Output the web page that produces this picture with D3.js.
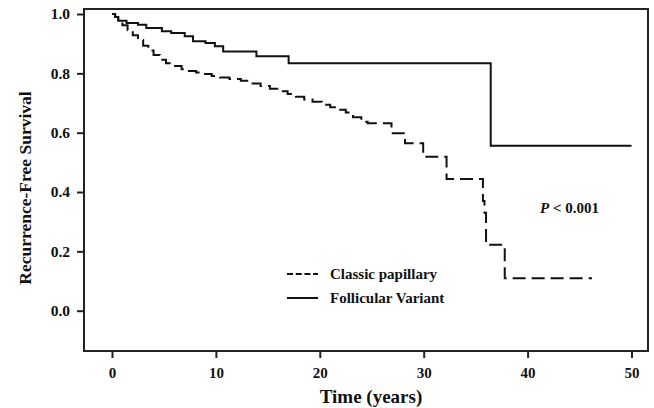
<!DOCTYPE html>
<html>
<head>
<meta charset="utf-8">
<script src="https://cdn.jsdelivr.net/npm/d3@7"></script>
<style>
  body { margin: 0; background: #fff; }
  svg text { font-family: "Liberation Serif", "Times New Roman", serif; font-weight: bold; fill: #111; }
</style>
</head>
<body>
<svg id="km" width="654" height="408"></svg>
<script>
// Kaplan-Meier step points (time in years, survival)
var classicTimes = [0, 0.3, 0.6, 1.0, 1.5, 2.0, 2.5, 3.0, 3.5, 4.0, 4.6, 5.2, 5.9, 6.7, 7.4, 8.1, 8.8, 9.6, 10.4, 11.3, 12.4, 13.4, 14.3, 15.2, 16.0, 16.9, 17.7, 18.5, 19.3, 20.2, 21.0, 21.8, 22.5, 23.2, 24.0, 24.6, 26.9, 28.2, 29.95, 32.2, 35.7, 35.85, 36.0, 37.8, 46.2];
var classicSurv  = [1.0, 0.99, 0.975, 0.962, 0.945, 0.928, 0.912, 0.893, 0.877, 0.862, 0.846, 0.834, 0.825, 0.814, 0.808, 0.803, 0.798, 0.791, 0.786, 0.781, 0.775, 0.766, 0.757, 0.748, 0.740, 0.730, 0.721, 0.712, 0.704, 0.694, 0.686, 0.677, 0.668, 0.652, 0.637, 0.632, 0.598, 0.564, 0.519, 0.444, 0.37, 0.33, 0.222, 0.109, 0.109];

var follTimes = [0, 0.3, 0.6, 1.4, 2.5, 3.3, 4.8, 5.7, 7.0, 7.8, 9.0, 9.9, 10.7, 13.9, 17.0, 36.45, 50.0];
var follSurv  = [1.0, 0.99, 0.977, 0.970, 0.964, 0.953, 0.942, 0.936, 0.925, 0.908, 0.902, 0.891, 0.874, 0.858, 0.834, 0.556, 0.556];

var xTicks = [0, 10, 20, 30, 40, 50];
var yTicks = [0.0, 0.2, 0.4, 0.6, 0.8, 1.0];
var legendLabels = ["Classic papillary", "Follicular Variant"];

var svg = d3.select("#km");

// frame of the plot area
var frameLeft = 84, frameRight = 648, frameTop = 9, frameBottom = 351;

var xScale = d3.scaleLinear().domain([0, 50]).range([112, 631.5]);
var yScale = d3.scaleLinear().domain([0, 1]).range([310.7, 14]);

svg.append("rect")
   .attr("x", frameLeft).attr("y", frameTop)
   .attr("width", frameRight - frameLeft).attr("height", frameBottom - frameTop)
   .attr("fill", "none").attr("stroke", "#222").attr("stroke-width", 2);

// x axis
var xAxis = d3.axisBottom(xScale).tickValues(xTicks).tickSize(7).tickPadding(9)
              .tickFormat(d3.format("d"));
var gx = svg.append("g").attr("transform", "translate(0," + frameBottom + ")").call(xAxis);
gx.select(".domain").remove();
gx.selectAll("line").attr("stroke", "#222").attr("stroke-width", 2);
gx.selectAll("text").style("font-size", "15px").attr("fill", "#111");

// y axis
var yAxis = d3.axisLeft(yScale).tickValues(yTicks).tickSize(7).tickPadding(7)
              .tickFormat(d3.format(".1f"));
var gy = svg.append("g").attr("transform", "translate(" + frameLeft + ",0)").call(yAxis);
gy.select(".domain").remove();
gy.selectAll("line").attr("stroke", "#222").attr("stroke-width", 2);
gy.selectAll("text").style("font-size", "15.5px").attr("fill", "#111");

// axis titles
svg.append("text")
   .attr("x", (frameLeft + frameRight) / 2 + 5).attr("y", 403)
   .attr("text-anchor", "middle").style("font-size", "19px")
   .text("Time (years)");

svg.append("text")
   .attr("transform", "translate(31,188) rotate(-90)")
   .attr("text-anchor", "middle").style("font-size", "17.5px")
   .text("Recurrence-Free Survival");

// curves
var line = d3.line()
  .x(function(d) { return xScale(d[0]); })
  .y(function(d) { return yScale(d[1]); })
  .curve(d3.curveStepAfter);

var classicData = classicTimes.map(function(t, i) { return [t, classicSurv[i]]; });
var follData = follTimes.map(function(t, i) { return [t, follSurv[i]]; });

svg.append("path").datum(follData)
   .attr("d", line).attr("fill", "none")
   .attr("stroke", "#111").attr("stroke-width", 2);

svg.append("path").datum(classicData)
   .attr("d", line).attr("fill", "none")
   .attr("stroke", "#111").attr("stroke-width", 2)
   .attr("stroke-dasharray", "13,6");

// legend
var legend = svg.append("g");
legend.selectAll("line")
  .data(legendLabels)
  .enter()
  .append("line")
  .attr("x1", 287).attr("x2", 318)
  .attr("y1", function(d, i) { return 274 + 24 * i; })
  .attr("y2", function(d, i) { return 274 + 24 * i; })
  .attr("stroke", "#111").attr("stroke-width", 2)
  .attr("stroke-dasharray", function(d, i) { return i === 0 ? "6,2.7" : null; });

legend.selectAll("text")
  .data(legendLabels)
  .enter()
  .append("text")
  .attr("x", 330)
  .attr("y", function(d, i) { return 279 + 24 * i; })
  .style("font-size", "15px")
  .text(function(d) { return d; });

// p value
var p = svg.append("text").attr("x", 540).attr("y", 213).style("font-size", "15px");
p.append("tspan").style("font-style", "italic").text("P");
p.append("tspan").text(" < 0.001");
</script>
</body>
</html>
